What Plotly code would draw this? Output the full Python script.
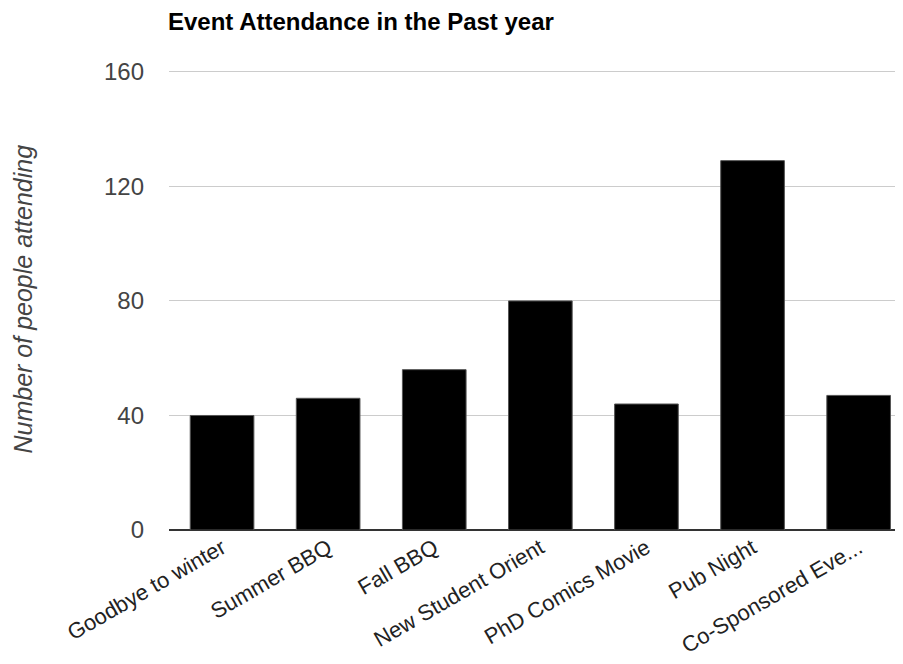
import plotly.graph_objects as go

categories = ["Goodbye to winter", "Summer BBQ", "Fall BBQ", "New Student Orient",
              "PhD Comics Movie", "Pub Night", "Co-Sponsored Eve..."]
attendance = [40, 46, 56, 80, 44, 129, 47]
y_ticks = [0, 40, 80, 120, 160]

# the page body adds an 8px margin, so the figure is sized to fit 903x664
W, H = 895, 656
L, R, T, B = 161, 0, 61, 134
STEP = 106.1  # pixels per category
FONT = "Liberation Sans, Arial, sans-serif"

fig = go.Figure(go.Bar(
    x=categories, y=attendance,
    marker=dict(color="#000000", line=dict(color="#555555", width=1)),
))

fig.update_layout(
    width=W, height=H,
    margin=dict(l=L, r=R, t=T, b=B, pad=0, autoexpand=False),
    paper_bgcolor="white", plot_bgcolor="white",
    bargap=0.4,
    showlegend=False,
    title=dict(text="<b>Event Attendance in the Past year</b>",
               font=dict(family=FONT, size=24, color="#000000"),
               x=160 / W, xref="container", xanchor="left",
               y=1 - 5 / H, yref="container", yanchor="top"),
    font=dict(family=FONT),
)

fig.update_xaxes(
    range=[-0.5, -0.5 + (W - L - R) / STEP],
    tickangle=-30,
    tickfont=dict(family=FONT, size=22, color="#222222"),
    showgrid=False, zeroline=False, showline=False, ticks="",
)
fig.update_yaxes(
    range=[0, 161], tickvals=y_ticks,
    tickfont=dict(family=FONT, size=24, color="#444444"),
    showgrid=True, gridcolor="#cccccc", gridwidth=1,
    zeroline=True, zerolinecolor="#333333", zerolinewidth=2,
    showline=False, ticks="", ticklabelstandoff=24,
)

fig.add_annotation(
    text="<i>Number of people attending</i>",
    xref="paper", yref="paper", x=(14 - L) / (W - L - R), y=0.5,
    xanchor="center", yanchor="middle", textangle=-90, showarrow=False,
    font=dict(family=FONT, size=25, color="#444444"),
)

fig.write_html("out.html")
